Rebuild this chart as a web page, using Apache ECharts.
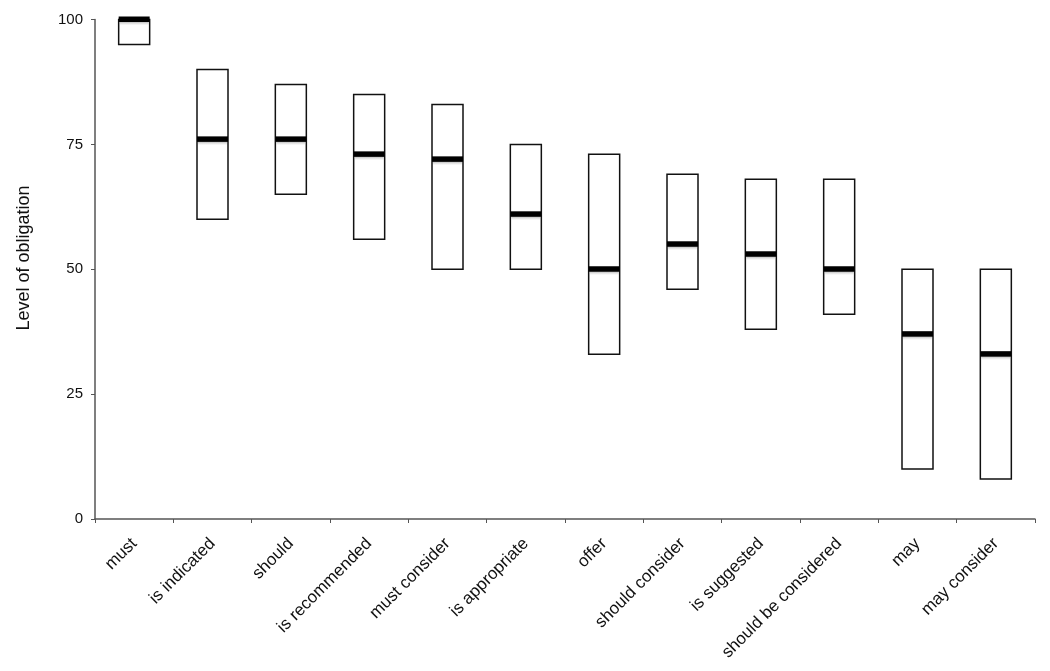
<!DOCTYPE html>
<html><head><meta charset="utf-8">
<script src="https://cdn.jsdelivr.net/npm/echarts@6/dist/echarts.min.js"></script>
<style>html,body{margin:0;padding:0;background:#fff}#c{width:1050px;height:671px}</style>
</head><body><div id="c"></div>
<script>
const categories = ["must","is indicated","should","is recommended","must consider","is appropriate","offer","should consider","is suggested","should be considered","may","may consider"];
const lows    = [95, 60, 65, 56, 50, 50, 33, 46, 38, 41, 10, 8];
const medians = [100, 76, 76, 73, 72, 61, 50, 55, 53, 50, 37, 33];
const highs   = [100, 90, 87, 85, 83, 75, 73, 69, 68, 68, 50, 50];
const yTicks  = [0, 25, 50, 75, 100];
const yTitle  = 'Level of obligation';

const data = categories.map((c, i) => [i, lows[i], medians[i], highs[i]]);
const chart = echarts.init(document.getElementById('c'));
const FONT = '"Liberation Sans", Arial, sans-serif';
chart.setOption({
  animation: false,
  grid: { left: 95, right: 15, top: 19.5, bottom: 152, containLabel: false },
  graphic: [{
    type: 'text', x: 24, y: 258, rotation: Math.PI / 2,
    style: { text: yTitle, fontFamily: FONT, fontSize: 18, fill: '#111',
      align: 'center', verticalAlign: 'middle' }
  }],
  xAxis: {
    type: 'category', data: categories, boundaryGap: true,
    axisLine: { lineStyle: { color: '#555', width: 1.5 } },
    axisTick: { show: true, alignWithLabel: false, length: 4, lineStyle: { color: '#555' } },
    axisLabel: { rotate: 45, fontFamily: FONT, fontSize: 17, color: '#111', margin: 22, interval: 0 }
  },
  yAxis: {
    type: 'value', min: 0, max: 100, interval: 25,
    splitLine: { show: false },
    axisLine: { show: true, lineStyle: { color: '#555', width: 1.5 } },
    axisTick: { show: true, length: 4, lineStyle: { color: '#555' } },
    axisLabel: { fontFamily: FONT, fontSize: 15, color: '#111', margin: 12,
      formatter: v => yTicks.includes(v) ? String(v) : '' }
  },
  series: [{
    type: 'custom',
    data: data,
    encode: { x: 0, y: [1, 2, 3] },
    renderItem: function (params, api) {
      const x = api.value(0);
      const lo = api.coord([x, api.value(1)]);
      const md = api.coord([x, api.value(2)]);
      const hi = api.coord([x, api.value(3)]);
      const w = 31;
      const left = lo[0] - w / 2;
      return {
        type: 'group',
        children: [
          { type: 'rect', shape: { x: left, y: hi[1], width: w, height: lo[1] - hi[1] },
            style: { fill: '#fff', stroke: '#111', lineWidth: 1.5 } },
          { type: 'rect', shape: { x: left + 1, y: md[1] + 2, width: w - 2, height: 4 },
            style: { fill: new echarts.graphic.LinearGradient(0, 0, 0, 1, [
              { offset: 0, color: 'rgba(120,120,120,0.6)' }, { offset: 1, color: 'rgba(200,200,200,0)' }]) } },
          { type: 'rect', shape: { x: left, y: md[1] - 3, width: w, height: 5.5 },
            style: { fill: '#000' } }
        ]
      };
    }
  }]
});
</script></body></html>
